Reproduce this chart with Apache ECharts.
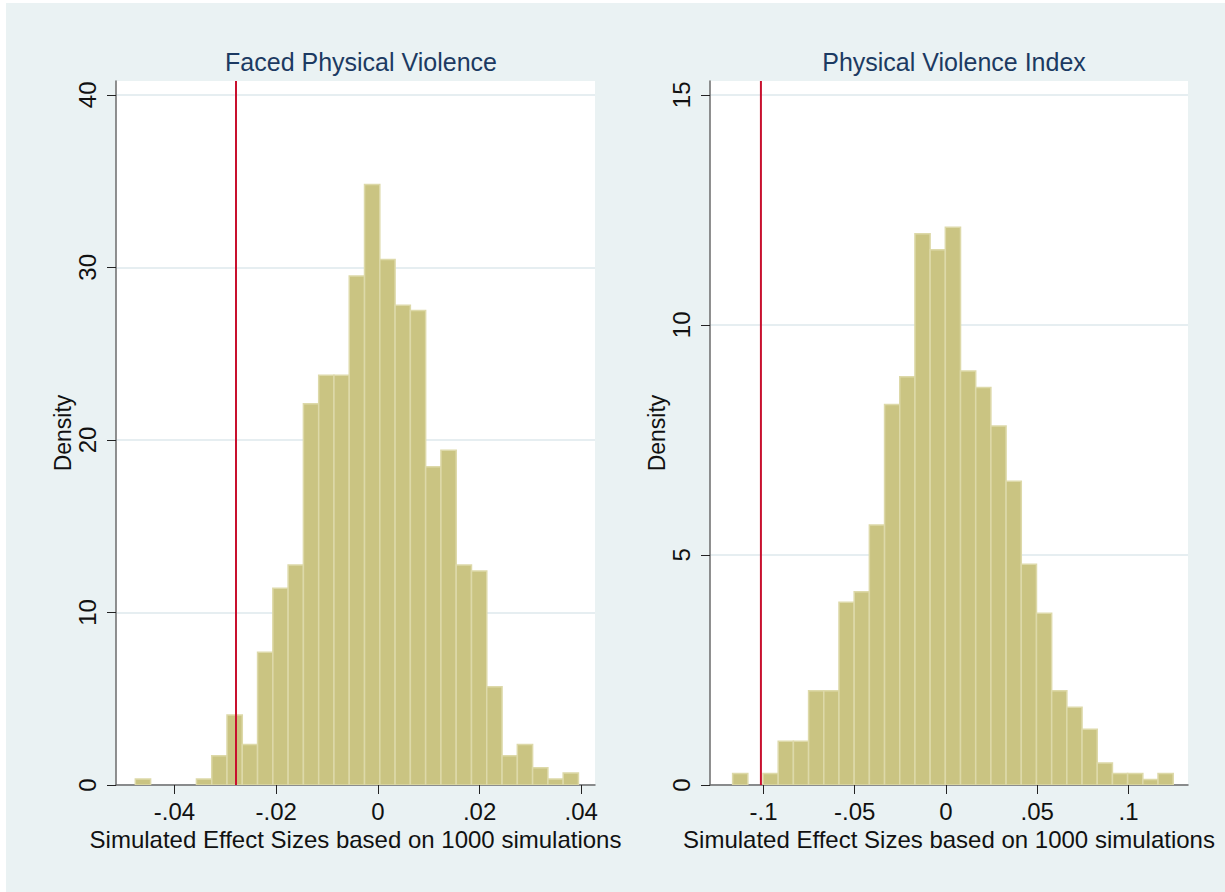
<!DOCTYPE html>
<html>
<head>
<meta charset="utf-8">
<script src="https://cdn.jsdelivr.net/npm/echarts@6/dist/echarts.min.js"></script>
<style>
  html, body { margin: 0; padding: 0; background: #ffffff; }
  #chart { width: 1225px; height: 892px; }
</style>
</head>
<body>
<div id="chart"></div>
<script>
// ---- Data ----
const leftTitle = 'Faced Physical Violence';
const rightTitle = 'Physical Violence Index';
const xAxisTitle = 'Simulated Effect Sizes based on 1000 simulations';
const yAxisTitle = 'Density';

// Left histogram (29 bins)
const leftBinStart = -0.0477;
const leftBinWidth = 0.003005;
const leftDensity = [0.35, 0, 0, 0, 0.35, 1.7, 4.05, 2.35, 7.7, 11.4, 12.75, 22.1, 23.75, 23.75,
  29.5, 34.8, 30.45, 27.8, 27.5, 18.45, 19.4, 12.75, 12.4, 5.7, 1.7, 2.35, 1.0, 0.35, 0.7];
const leftObserved = -0.0279;
const leftXTicks = [-0.04, -0.02, 0, 0.02, 0.04];
const leftYTicks = [0, 10, 20, 30, 40];

// Right histogram (29 bins)
const rightBinStart = -0.1169;
const rightBinWidth = 0.008324;
const rightDensity = [0.25, 0, 0.25, 0.95, 0.95, 2.05, 2.05, 3.97, 4.2, 5.65, 8.27, 8.87, 11.98, 11.63,
  12.12, 9.0, 8.64, 7.8, 6.6, 4.8, 3.73, 2.05, 1.69, 1.21, 0.48, 0.25, 0.25, 0.12, 0.25];
const rightObserved = -0.1014;
const rightXTicks = [-0.1, -0.05, 0, 0.05, 0.1];
const rightYTicks = [0, 5, 10, 15];

// ---- Build chart ----
const LEFT_YMAX = 40.8, RIGHT_YMAX = 15.3;
function binsToData(start, width, dens) {
  return dens.map((d, i) => [start + i * width, start + (i + 1) * width, d]);
}
function stataFmt(v) {
  if (Math.abs(v) < 1e-12) return '0';
  let s = String(+v.toFixed(4));
  return s.replace('0.', '.');
}
const FONT = '"Liberation Sans", Arial, Helvetica, sans-serif';
const BAR_FILL = '#CAC482';
const BAR_EDGE = '#DDD9A9';
const GRID_LINE = '#E6EEF1';
const AXIS_COL = '#6b6b6b';
const RED = '#C8102E';

function renderHist(params, api) {
  const y = api.value(2);
  if (!(y > 0)) return null;
  const p0 = api.coord([api.value(0), y]);
  const p1 = api.coord([api.value(1), 0]);
  return {
    type: 'rect',
    shape: { x: p0[0], y: p0[1], width: p1[0] - p0[0], height: p1[1] - p0[1] },
    style: { fill: BAR_FILL, stroke: BAR_EDGE, lineWidth: 1.5 }
  };
}

function xAxisCfg(gi, min, max, ticks) {
  return {
    type: 'value', gridIndex: gi, min: min, max: max,
    name: xAxisTitle, nameLocation: 'middle', nameGap: 40,
    nameTextStyle: { fontFamily: FONT, fontSize: 24, color: '#111' },
    axisLine: { show: true, onZero: false, lineStyle: { color: AXIS_COL, width: 1.5 } },
    axisTick: { show: true, length: 9, customValues: ticks, lineStyle: { color: '#222', width: 1 } },
    axisLabel: { customValues: ticks, formatter: stataFmt, margin: 14,
      fontFamily: FONT, fontSize: 24, color: '#111' },
    splitLine: { show: false }
  };
}
function yAxisCfg(gi, max, ticks) {
  return {
    type: 'value', gridIndex: gi, min: 0, max: max,
    name: yAxisTitle, nameLocation: 'middle', nameGap: 40,
    nameTextStyle: { fontFamily: FONT, fontSize: 23, color: '#111' },
    axisLine: { show: true, onZero: false, lineStyle: { color: AXIS_COL, width: 1.5 } },
    axisTick: { show: true, length: 9, customValues: ticks, lineStyle: { color: '#222', width: 1 } },
    axisLabel: { customValues: ticks, rotate: 90, margin: 17,
      fontFamily: FONT, fontSize: 24, color: '#111' },
    splitLine: { show: true, lineStyle: { color: GRID_LINE, width: 2 } }
  };
}
function refLine(gi, x, ymax) {
  return {
    type: 'line', xAxisIndex: gi, yAxisIndex: gi, silent: true,
    symbol: 'none', z: 5,
    lineStyle: { color: RED, width: 2 },
    data: [[x, 0], [x, ymax]]
  };
}

const chart = echarts.init(document.getElementById('chart'), null, { renderer: 'svg' });
chart.setOption({
  animation: false,
  backgroundColor: '#ffffff',
  graphic: [{
    type: 'rect', z: -10, silent: true,
    shape: { x: 6, y: 3, width: 1219, height: 889 },
    style: { fill: '#EAF2F3' }
  }, {
    type: 'rect', z: -9, silent: true,
    shape: { x: 116, y: 81, width: 479, height: 704 },
    style: { fill: '#ffffff' }
  }, {
    type: 'rect', z: -9, silent: true,
    shape: { x: 710, y: 81, width: 478, height: 704 },
    style: { fill: '#ffffff' }
  }],
  title: [
    { text: leftTitle, left: 356, top: 44, textAlign: 'center',
      textStyle: { fontFamily: FONT, fontSize: 25, fontWeight: 'normal', color: '#1C3A62' } },
    { text: rightTitle, left: 949, top: 44, textAlign: 'center',
      textStyle: { fontFamily: FONT, fontSize: 25, fontWeight: 'normal', color: '#1C3A62' } }
  ],
  grid: [
    { left: 116, top: 81, width: 479, height: 704 },
    { left: 710, top: 81, width: 478, height: 704 }
  ],
  xAxis: [
    xAxisCfg(0, -0.0515, 0.0427, leftXTicks),
    xAxisCfg(1, -0.1293, 0.1326, rightXTicks)
  ],
  yAxis: [
    yAxisCfg(0, LEFT_YMAX, leftYTicks),
    yAxisCfg(1, RIGHT_YMAX, rightYTicks)
  ],
  series: [
    { type: 'custom', xAxisIndex: 0, yAxisIndex: 0, renderItem: renderHist,
      encode: { x: [0, 1], y: 2 }, clip: true,
      data: binsToData(leftBinStart, leftBinWidth, leftDensity) },
    { type: 'custom', xAxisIndex: 1, yAxisIndex: 1, renderItem: renderHist,
      encode: { x: [0, 1], y: 2 }, clip: true,
      data: binsToData(rightBinStart, rightBinWidth, rightDensity) },
    refLine(0, leftObserved, LEFT_YMAX),
    refLine(1, rightObserved, RIGHT_YMAX)
  ]
});
</script>
</body>
</html>
